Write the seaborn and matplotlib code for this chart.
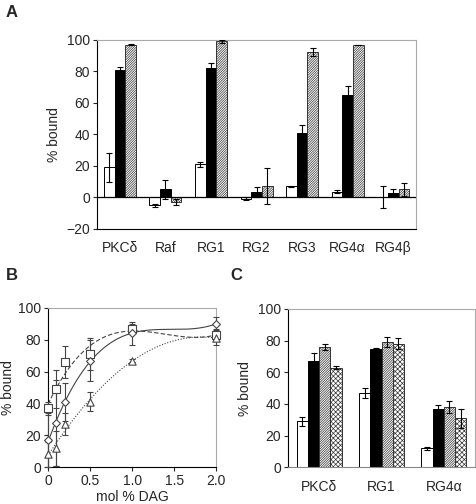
import numpy as np
import pandas as pd
import seaborn as sns
import matplotlib.pyplot as plt

sns.set_style("white")
plt.rcParams['font.family'] = ['Liberation Sans', 'DejaVu Sans']
plt.rcParams['font.size'] = 10
plt.rcParams['hatch.linewidth'] = 0.5

# Panel A data
a_cats = ["PKC\u03b4", "Raf", "RG1", "RG2", "RG3", "RG4\u03b1", "RG4\u03b2"]
a_series = ["s1", "s2", "s3"]
a_vals = {
    "s1": [19, -5, 21, -1, 7, 3.5, 0],
    "s2": [81, 5, 82, 3.5, 41, 65, 3],
    "s3": [97, -3, 99, 7, 92, 97, 5],
}
a_err = {
    "s1": [9, 1, 1.5, 1, 0.5, 1, 7],
    "s2": [1.5, 6, 3.5, 3, 5, 5.5, 2],
    "s3": [0.5, 2, 1, 11.5, 2.5, 0, 4],
}

# Panel B data
b_x = [0, 0.1, 0.2, 0.5, 1.0, 2.0]
b_square = [37, 49, 66, 71, 87, 83]
b_square_err = [4, 12, 10, 10, 3, 4]
b_diamond = [17, 28, 41, 67, 84, 90]
b_diamond_err = [17, 27, 12, 13, 7, 4]
b_triangle = [8, 12, 27, 41, 67, 81]
b_triangle_err = [8, 11, 7, 6, 1, 4]

# Panel C data
c_cats = ["PKC\u03b4", "RG1", "RG4\u03b1"]
c_series = ["s1", "s2", "s3", "s4"]
c_vals = {
    "s1": [29, 47, 12],
    "s2": [67, 75, 37],
    "s3": [76, 79, 38],
    "s4": [63, 78, 31],
}
c_err = {
    "s1": [3, 3, 1],
    "s2": [5, 0.5, 2.5],
    "s3": [2, 3, 4],
    "s4": [1, 3.5, 6],
}

faces = {"s1": "white", "s2": "black", "s3": "white", "s4": "white"}
hatches = {"s1": "", "s2": "", "s3": "/" * 14, "s4": "x" * 7}

fig = plt.figure(figsize=(4.76, 5.04), dpi=100)
axA = fig.add_axes([0.204, 0.546, 0.670, 0.375])
axB = fig.add_axes([0.101, 0.073, 0.353, 0.316])
axC = fig.add_axes([0.605, 0.073, 0.393, 0.314])


def bar_panel(ax, cats, series, vals, errs, width):
    rows = []
    for s in series:
        for c, v in zip(cats, vals[s]):
            rows.append({"cat": c, "series": s, "val": v})
    df = pd.DataFrame(rows)
    sns.barplot(data=df, x="cat", y="val", hue="series", order=cats,
                hue_order=series, errorbar=None, width=width, gap=0,
                legend=False, ax=ax, edgecolor="black", linewidth=0.7)
    for s, cont in zip(series, ax.containers):
        xs = []
        for p in cont.patches:
            p.set_facecolor(faces[s])
            p.set_hatch(hatches[s])
            if hatches[s]:
                p.set_edgecolor("#333333")
                if hasattr(p, "set_hatchcolor"):
                    p.set_hatchcolor("#666666")
            else:
                p.set_edgecolor("black")
            xs.append(p.get_x() + p.get_width() / 2)
        ax.errorbar(xs, vals[s], yerr=errs[s], fmt="none", ecolor="black",
                    elinewidth=0.8, capsize=2.5, capthick=0.8, zorder=5)
    ax.set_xlabel("")
    ax.set_ylabel("% bound", fontsize=10)
    ax.tick_params(axis="both", labelsize=10, length=3, width=0.8,
                   direction="out", left=True, bottom=False, pad=2)
    ax.tick_params(axis="x", pad=6)
    for side in ("top", "right"):
        ax.spines[side].set_color("#aaaaaa")
    for side in ("left", "bottom"):
        ax.spines[side].set_color("black")
        ax.spines[side].set_linewidth(0.8)
    ax.set_xlim(-0.5, len(cats) - 0.5)


bar_panel(axA, a_cats, a_series, a_vals, a_err, 0.7)
axA.set_ylim(-20, 100)
axA.set_yticks(range(-20, 101, 20))
axA.axhline(0, color="black", lw=0.9, zorder=4)

bar_panel(axC, c_cats, c_series, c_vals, c_err, 0.72)
axC.set_ylim(0, 100)
axC.set_yticks(range(0, 101, 20))
axC.spines["bottom"].set_color("#888888")

# Panel B
xs_fine = np.linspace(0, 2, 200)
series_b = [
    (b_square, b_square_err, "s", 26, (0, (4, 2))),
    (b_diamond, b_diamond_err, "D", 16, "-"),
    (b_triangle, b_triangle_err, "^", 28, (0, (1, 1.5))),
]
for ys, es, mk, sz, ls in series_b:
    coef = np.polyfit(b_x, ys, 3)
    fit = pd.DataFrame({"x": xs_fine, "y": np.polyval(coef, xs_fine)})
    sns.lineplot(data=fit, x="x", y="y", ax=axB, color="#444444",
                 linewidth=0.8, linestyle=ls)
    axB.errorbar(b_x, ys, yerr=es, fmt="none", ecolor="#444444",
                 elinewidth=0.8, capsize=2.5, capthick=0.8, zorder=3,
                 clip_on=False)
    pts = pd.DataFrame({"x": b_x, "y": ys})
    sns.scatterplot(data=pts, x="x", y="y", marker=mk, ax=axB, s=sz,
                    facecolor="white", edgecolor="#444444", linewidth=0.8,
                    zorder=4, clip_on=False)

axB.set_xlim(0, 2.0)
axB.set_ylim(0, 100)
axB.set_xticks([0, 0.5, 1.0, 1.5, 2.0])
axB.set_xticklabels(["0", "0.5", "1.0", "1.5", "2.0"])
axB.set_yticks(range(0, 101, 20))
axB.set_xlabel("mol % DAG", fontsize=10, labelpad=1)
axB.set_ylabel("% bound", fontsize=10, labelpad=2)
axB.tick_params(axis="both", labelsize=10, length=3, width=0.8,
                direction="out", left=True, bottom=True, pad=2)
for side in ("top", "right"):
    axB.spines[side].set_color("#aaaaaa")
for side in ("left", "bottom"):
    axB.spines[side].set_color("black")
    axB.spines[side].set_linewidth(0.8)

fig.text(0.012, 0.99, "A", fontsize=12, fontweight="bold", va="top")
fig.text(0.012, 0.468, "B", fontsize=12, fontweight="bold", va="top")
fig.text(0.485, 0.468, "C", fontsize=12, fontweight="bold", va="top")

fig.savefig("out.png", dpi=100)
